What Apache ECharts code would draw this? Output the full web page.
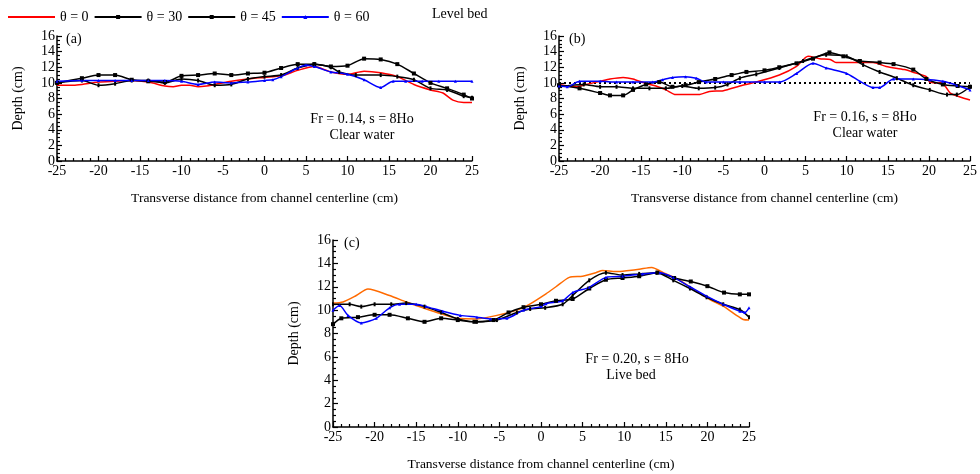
<!DOCTYPE html>
<html><head><meta charset="utf-8">
<script src="https://cdn.jsdelivr.net/npm/echarts@6/dist/echarts.min.js"></script>
<style>html,body{margin:0;padding:0;background:#fff}#c{width:980px;height:474px}</style>
</head><body><div id="c"></div>
<script>
// Tick labels
const yTicks = [0, 2, 4, 6, 8, 10, 12, 14, 16];
const xTicks = [-25, -20, -15, -10, -5, 0, 5, 10, 15, 20, 25];
const seriesNames = ['θ = 0', 'θ = 30', 'θ = 45', 'θ = 60'];

// Panel (a) Fr = 0.14 clear water
const a0 = [[-25,9.7],[-23,9.7],[-22,9.8],[-20,10.1],[-18,10.2],[-16,10.3],[-14,10.1],[-12,9.6],[-11,9.5],[-10,9.7],[-9,9.7],[-8,9.5],[-7,9.6],[-6,9.8],[-4,10.2],[-2,10.5],[0,10.7],[2,10.9],[4,11.6],[6,12.1],[8,11.4],[10,11.1],[12,11.5],[14,11.3],[16,10.8],[18,9.8],[20,9.1],[21.5,8.7],[22.7,7.8],[24,7.5],[25,7.5]];
const a30 = [[-25,10.0],[-22,10.6],[-20,11.0],[-18,11.0],[-16,10.4],[-14,10.2],[-12,10.1],[-10,10.9],[-8,11.0],[-6,11.2],[-4,11.0],[-2,11.2],[0,11.3],[2,11.9],[4,12.4],[6,12.4],[8,12.1],[10,12.2],[12,13.1],[14,13.0],[16,12.4],[18,11.2],[20,10.0],[22,9.3],[24,8.5],[25,8.0]];
const a45 = [[-25,10.0],[-22,10.3],[-20,9.7],[-18,9.9],[-16,10.3],[-14,10.3],[-12,10.0],[-10,10.5],[-8,10.3],[-6,9.7],[-4,9.8],[-2,10.5],[0,10.8],[2,11.0],[4,11.9],[6,12.4],[8,12.0],[9,11.4],[11,11.0],[14,11.0],[16,10.8],[18,10.4],[20,9.3],[22,9.1],[24,8.3],[25,8.1]];
const a60 = [[-25,10.2],[-22,10.3],[-20,10.3],[-18,10.3],[-16,10.3],[-14,10.3],[-12,10.3],[-10,10.2],[-8,9.8],[-6,10.1],[-4,10.0],[-2,10.1],[0,10.3],[1,10.4],[2,10.8],[4,11.9],[5,12.3],[6,12.1],[8,11.4],[10,11.1],[12,10.4],[14,9.4],[15.5,10.2],[17,10.2],[19,10.2],[21,10.2],[23,10.2],[25,10.2]];

// Panel (b) Fr = 0.16 clear water
const b0 = [[-25,9.8],[-23,9.5],[-21.7,9.8],[-20,10.2],[-18.8,10.5],[-17.2,10.7],[-16,10.5],[-14.4,9.9],[-13.2,9.6],[-12,9.1],[-10.8,8.5],[-8,8.5],[-6.7,8.9],[-5,9.0],[-3,9.6],[-1,10.1],[1.8,11.0],[3.9,12.1],[5.3,13.4],[6.7,13.1],[8,13.0],[8.7,12.6],[11.6,12.6],[13.2,12.6],[14.8,12.1],[17,11.7],[18,11.4],[19.7,10.8],[20.1,10.1],[21.7,9.9],[22.6,8.7],[23.8,8.2],[25,7.8]];
const b30 = [[-25,9.7],[-22.5,9.3],[-20,8.7],[-18.8,8.4],[-17.2,8.4],[-16,9.1],[-14.4,9.8],[-12.8,10.1],[-11.2,9.5],[-9.6,9.7],[-8,10.1],[-6,10.5],[-4,11.0],[-2.2,11.4],[0,11.6],[1.8,12.0],[3.9,12.5],[5.9,13.1],[7.9,13.9],[9.6,13.4],[11.6,12.8],[14,12.6],[15.7,12.4],[18.1,11.7],[19.7,10.5],[21.7,9.8],[23.5,9.6],[25,9.5]];
const b45 = [[-25,9.5],[-22,9.8],[-20,9.5],[-18,9.5],[-16,9.3],[-14,9.3],[-12,9.3],[-10,9.6],[-8,9.3],[-6,9.4],[-4.5,9.8],[-3,10.6],[-1,11.1],[1.8,11.9],[4.7,12.8],[7.5,13.6],[10,13.4],[12,12.3],[14,11.4],[16.1,10.6],[18.1,9.7],[20.1,9.1],[22.2,8.5],[23.4,8.5],[25,9.5]];
const b60 = [[-25,9.6],[-24,9.5],[-22.5,10.2],[-20,10.2],[-18,10.1],[-16,10.1],[-13.6,10.1],[-12.4,10.4],[-11.2,10.7],[-9.6,10.8],[-8.3,10.6],[-7.1,10.1],[-5,10.1],[-3,10.1],[0,10.1],[1.8,10.1],[3.9,11.2],[5.9,12.5],[7.5,11.9],[10,11.2],[11.6,10.2],[13.2,9.4],[14,9.4],[15.7,10.5],[18.1,10.5],[20.1,10.4],[21.7,10.2],[23.4,9.7],[25,9.1]];
const bLevel = [[-25,10],[25,10]];

// Panel (c) Fr = 0.20 live bed
const c0 = [[-25,10.6],[-23.8,10.7],[-22.2,11.25],[-20.8,11.8],[-18.2,11.25],[-16.2,10.7],[-14.2,10.2],[-12.1,9.7],[-10.1,9.3],[-7.7,9.25],[-5.3,9.55],[-2.9,10.0],[-1.4,10.5],[0.6,11.4],[1.8,12.0],[3.4,12.8],[5,12.9],[6.6,13.2],[7.4,13.4],[9,13.3],[10.6,13.4],[11.8,13.5],[13.3,13.65],[14.7,13.2],[16.7,12.55],[18.7,11.6],[20.3,10.9],[21.9,10.35],[23.5,9.55],[24.3,9.2],[25,9.15]];
const c30 = [[-25,8.8],[-24,9.3],[-22,9.4],[-20,9.6],[-18.2,9.6],[-16,9.3],[-14,9.0],[-12,9.3],[-10,9.15],[-8,9.0],[-5.7,9.15],[-3.9,9.8],[-2.1,10.25],[0,10.5],[1.8,10.8],[3.8,10.95],[5.8,11.85],[7.8,12.6],[9.8,12.75],[11.8,12.9],[14,13.2],[16,12.75],[18,12.45],[20,12.05],[22,11.5],[23.9,11.35],[25,11.35]];
const c45 = [[-25,10.5],[-23,10.5],[-21.6,10.3],[-20,10.5],[-18,10.5],[-16.2,10.6],[-14,10.3],[-12,9.8],[-10,9.25],[-7.7,9.0],[-5.3,9.15],[-2.9,9.8],[-1.3,10.1],[0.5,10.2],[2.6,10.5],[3.8,11.25],[5.8,12.55],[7.8,13.2],[9.8,13.0],[11.8,13.1],[13.9,13.2],[15.9,12.55],[17.9,11.85],[19.9,11.1],[21.9,10.5],[23.9,10.05],[25,9.4]];
const c60 = [[-25,10.0],[-24.2,10.4],[-23.2,9.55],[-21.6,8.9],[-19.8,9.3],[-18.2,10.2],[-17,10.5],[-15,10.5],[-13.8,10.3],[-11.8,9.9],[-9.7,9.55],[-7.7,9.4],[-6.1,9.25],[-4.1,9.3],[-2.1,10.0],[0,10.3],[0.6,10.55],[2.6,10.8],[3.8,11.5],[5.8,11.95],[7.8,12.8],[9.8,12.9],[12.2,13.1],[14.3,13.2],[15.9,12.8],[17.9,12.0],[19.9,11.2],[21.9,10.5],[23.9,9.9],[24.5,9.8],[25,10.2]];

const FONT = 'Liberation Serif';
const xName = 'Transverse distance from channel centerline (cm)';

function xAxis(gi) {
  return {
    type: 'value', gridIndex: gi, min: xTicks[0], max: xTicks[xTicks.length - 1],
    interval: xTicks[1] - xTicks[0],
    name: xName, nameLocation: 'middle', nameGap: 30,
    nameTextStyle: { fontFamily: FONT, fontSize: 13.5, color: '#000' },
    axisLine: { onZero: false, lineStyle: { color: '#000', width: 1.5 } },
    axisTick: { inside: true, length: 5, lineStyle: { color: '#000', width: 1.2 } },
    minorTick: { show: true, splitNumber: 5, length: 3, lineStyle: { color: '#000', width: 1.2 } },
    splitLine: { show: false },
    axisLabel: { fontFamily: FONT, fontSize: 14, color: '#000', margin: 3 }
  };
}
function yAxis(gi) {
  return {
    type: 'value', gridIndex: gi, min: yTicks[0], max: yTicks[yTicks.length - 1],
    interval: yTicks[1] - yTicks[0],
    name: 'Depth (cm)', nameLocation: 'middle', nameGap: 32,
    nameTextStyle: { fontFamily: FONT, fontSize: 14, color: '#000' },
    axisLine: { onZero: false, lineStyle: { color: '#000', width: 1.5 } },
    axisTick: { inside: true, length: 5, lineStyle: { color: '#000', width: 1.2 } },
    minorTick: { show: true, splitNumber: 4, length: 3, lineStyle: { color: '#000', width: 1.2 } },
    splitLine: { show: false },
    axisLabel: { fontFamily: FONT, fontSize: 14, color: '#000', margin: 2 }
  };
}

const TICK = 'path://M0,0L1,0L1,2L0,2Z';
const styles = [
  { color: '#ff0000', symbol: 'circle', symbolSize: 2, show: false },
  { color: '#000000', symbol: 'rect', symbolSize: 4, show: true },
  { color: '#000000', symbol: TICK, symbolSize: 4, show: true },
  { color: '#0000ff', symbol: 'triangle', symbolSize: 3, show: true }
];
function mk(name, idx, gi, data, colorOverride) {
  const s = styles[idx];
  const col = colorOverride || s.color;
  return {
    type: 'line', name, xAxisIndex: gi, yAxisIndex: gi, data,
    smooth: 0.25, symbol: s.symbol, symbolSize: s.symbolSize, symbolKeepAspect: true,
    showAllSymbol: true, showSymbol: s.show,
    lineStyle: { color: col, width: 1.5 }, itemStyle: { color: col },
    emphasis: { disabled: true }, animation: false, z: 3
  };
}

const series = [];
[[a0, a30, a45, a60], [b0, b30, b45, b60], [c0, c30, c45, c60]].forEach((set, gi) => {
  set.forEach((d, i) => series.push(mk(seriesNames[i], i, gi, d, (gi === 2 && i === 0) ? '#ff6a00' : null)));
});
series.push({
  type: 'line', name: 'Level bed', xAxisIndex: 1, yAxisIndex: 1, data: bLevel,
  symbol: 'none', lineStyle: { color: '#000', width: 2, type: [2, 3] }, animation: false, z: 2
});

const option = {
  backgroundColor: '#fff',
  animation: false,
  textStyle: { fontFamily: FONT },
  grid: [
    { left: 57, top: 36, width: 415, height: 125 },
    { left: 559, top: 36, width: 413, height: 125 },
    { left: 333, top: 240, width: 416, height: 187 }
  ],
  xAxis: [xAxis(0), xAxis(1), xAxis(2)],
  yAxis: [yAxis(0), yAxis(1), yAxis(2)],
  legend: {
    data: [
      { name: 'θ = 0', itemStyle: { opacity: 0 } },
      { name: 'θ = 30' },
      { name: 'θ = 45' },
      { name: 'θ = 60' }
    ],
    symbolKeepAspect: true,
    left: 2, top: 5, itemWidth: 47, itemHeight: 5, itemGap: 5,
    textStyle: { fontFamily: FONT, fontSize: 14, color: '#000' }
  },
  graphic: [
    { type: 'text', left: 432, top: 7, style: { text: 'Level bed', font: '14px "Liberation Serif"', fill: '#000' } },
    { type: 'text', left: 66, top: 32, style: { text: '(a)', font: '14px "Liberation Serif"', fill: '#000' } },
    { type: 'text', left: 569, top: 32, style: { text: '(b)', font: '14px "Liberation Serif"', fill: '#000' } },
    { type: 'text', left: 344, top: 236, style: { text: '(c)', font: '14px "Liberation Serif"', fill: '#000' } },
    { type: 'text', x: 362, y: 112, style: { text: 'Fr = 0.14, s = 8Ho', font: '14px "Liberation Serif"', fill: '#000', align: 'center' } },
    { type: 'text', x: 362, y: 128, style: { text: 'Clear water', font: '14px "Liberation Serif"', fill: '#000', align: 'center' } },
    { type: 'text', x: 865, y: 110, style: { text: 'Fr = 0.16, s = 8Ho', font: '14px "Liberation Serif"', fill: '#000', align: 'center' } },
    { type: 'text', x: 865, y: 126, style: { text: 'Clear water', font: '14px "Liberation Serif"', fill: '#000', align: 'center' } },
    { type: 'text', x: 637, y: 352, style: { text: 'Fr = 0.20, s = 8Ho', font: '14px "Liberation Serif"', fill: '#000', align: 'center' } },
    { type: 'text', x: 631, y: 368, style: { text: 'Live bed', font: '14px "Liberation Serif"', fill: '#000', align: 'center' } }
  ],
  series
};
const chart = echarts.init(document.getElementById('c'), null, { renderer: 'canvas' });
chart.setOption(option);
</script></body></html>
